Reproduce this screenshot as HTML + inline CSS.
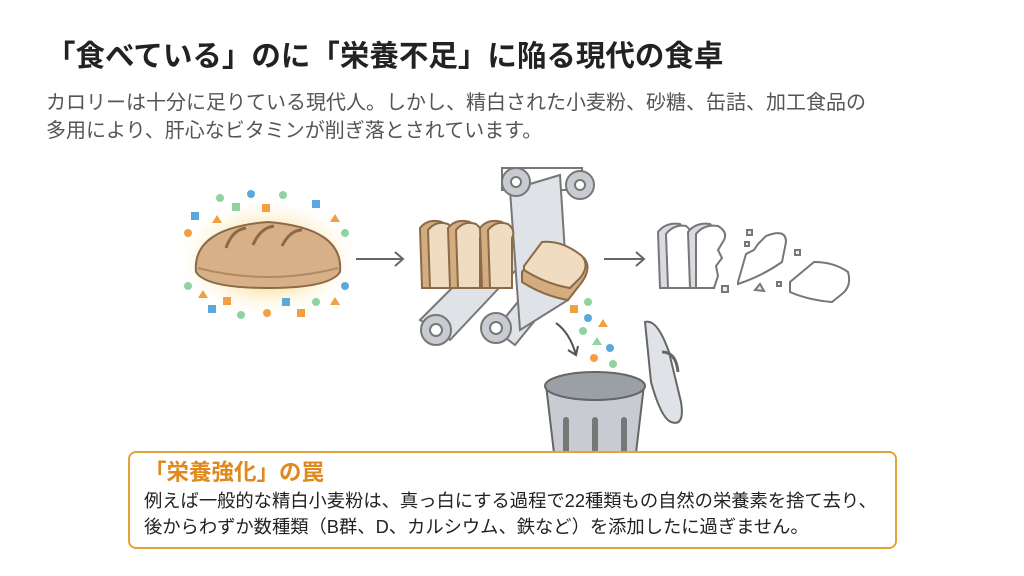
<!DOCTYPE html>
<html><head><meta charset="utf-8"><style>
body{margin:0;width:1024px;height:576px;background:#fff;font-family:"Liberation Sans","Noto Sans CJK JP",sans-serif;overflow:hidden;position:relative}
.t{position:absolute;left:46px;top:38px;font-size:29.5px;line-height:38px;font-weight:bold;color:#222;white-space:nowrap}
.s{position:absolute;left:46px;top:89px;font-size:20px;color:#555;line-height:28px;white-space:nowrap}
.box{position:absolute;left:128px;top:451px;width:765px;height:94px;border:2.5px solid #e3a23a;border-radius:8px;background:#fff}
.bh{position:absolute;left:14px;top:6px;font-size:22.5px;line-height:28px;font-weight:bold;color:#e0891c;white-space:nowrap}
.bb{position:absolute;left:14px;top:35px;font-size:18.3px;color:#222;line-height:26px;white-space:nowrap}
</style></head><body>
<div class="t">「食べている」のに「栄養不足」に陥る現代の食卓</div>
<div class="s">カロリーは十分に足りている現代人。しかし、精白された小麦粉、砂糖、缶詰、加工食品の<br>多用により、肝心なビタミンが削ぎ落とされています。</div>
<svg width="1024" height="576" style="position:absolute;left:0;top:0">
<defs><radialGradient id="g"><stop offset="0.5" stop-color="#fde9b8"/><stop offset="1" stop-color="#fff" stop-opacity="0"/></radialGradient></defs>
<ellipse cx="268" cy="258" rx="95" ry="62" fill="url(#g)"/>
<path d="M196 272 Q192 228 268 222 Q344 228 340 272 Q330 288 268 288 Q206 288 196 272z" fill="#d8b088" stroke="#8a6a48" stroke-width="2"/>
<path d="M198 268 Q268 286 338 268" stroke="#b08a60" stroke-width="2" fill="none"/>
<path d="M226 248 Q232 230 246 228 M253 245 Q260 228 274 226 M282 246 Q290 230 302 230" stroke="#8a6a48" stroke-width="3" fill="none"/>
<g fill="#8fd3a0"><circle cx="220" cy="198" r="4"/><circle cx="283" cy="195" r="4"/><circle cx="345" cy="233" r="4"/><circle cx="188" cy="286" r="4"/><circle cx="241" cy="315" r="4"/><circle cx="316" cy="302" r="4"/><rect x="232" y="203" width="8" height="8"/></g>
<g fill="#5aa8dc"><circle cx="251" cy="194" r="4"/><rect x="191" y="212" width="8" height="8"/><rect x="312" y="200" width="8" height="8"/><circle cx="345" cy="286" r="4"/><rect x="208" y="305" width="8" height="8"/><rect x="282" y="298" width="8" height="8"/></g>
<g fill="#f0a040"><rect x="262" y="204" width="8" height="8"/><circle cx="188" cy="233" r="4"/><circle cx="267" cy="313" r="4"/><rect x="297" y="309" width="8" height="8"/><rect x="223" y="297" width="8" height="8"/><path d="M212 223l5 -8 5 8z M330 222l5 -8 5 8z M198 298l5 -8 5 8z M330 305l5 -8 5 8z"/></g>
<path d="M356 259H403M395 252l8 7-8 7" stroke="#666" stroke-width="2" fill="none"/>
<path d="M604 259H644M636 252l8 7-8 7" stroke="#666" stroke-width="2" fill="none"/>
<g stroke="#777" stroke-width="2" fill="#dfe2e6">
<rect x="502" y="168" width="80" height="22" fill="none"/>
<path d="M420 320L500 240 530 255 450 340z"/>
<path d="M495 330L560 250 580 265 515 345z"/>
<path d="M510 190L560 175 568 300 520 330z"/>
<circle cx="516" cy="182" r="14" fill="#c8ccd2"/><circle cx="580" cy="185" r="14" fill="#c8ccd2"/>
<circle cx="436" cy="330" r="15" fill="#c8ccd2"/><circle cx="496" cy="328" r="15" fill="#c8ccd2"/>
<g fill="#fff"><circle cx="516" cy="182" r="5"/><circle cx="580" cy="185" r="5"/><circle cx="436" cy="330" r="6"/><circle cx="496" cy="328" r="6"/></g>
</g>
<g stroke="#8a6a48" stroke-width="2" fill="#f0dcc0">
<path d="M420 228q8-10 22-6 q6 6 4 14v52h-24z" fill="#d3ac80"/><path d="M428 230q8-10 20-6 q8 6 4 14v50h-22z"/>
<path d="M448 228q8-10 22-6 q6 6 4 14v52h-24z" fill="#d3ac80"/><path d="M456 230q8-10 20-6 q8 6 4 14v50h-22z"/>
<path d="M480 228q8-10 22-6 q6 6 4 14v52h-24z" fill="#d3ac80"/><path d="M488 230q8-10 20-6 q8 6 4 14v50h-22z"/>
<path d="M522 272l20-28q18-2 42 14q8 10-2 24l-14 18q-24-4-46-18z" fill="#d3ac80"/><path d="M524 266l18-24q20-2 40 14q8 10-2 22l-10 10q-24-4-46-18z"/>
</g>
<g fill="#8fd3a0"><circle cx="588" cy="302" r="4"/><circle cx="583" cy="331" r="4"/><circle cx="613" cy="364" r="4"/><circle cx="582" cy="387" r="4"/><path d="M592 345l5-8 5 8z"/></g>
<g fill="#5aa8dc"><circle cx="588" cy="318" r="4"/><circle cx="610" cy="348" r="4"/><rect x="593" y="371" width="7" height="8"/></g>
<g fill="#f0a040"><rect x="570" y="305" width="8" height="8"/><circle cx="594" cy="358" r="4"/><path d="M598 327l5-8 5 8z M615 385l5-8 5 8z"/><rect x="600" y="389" width="8" height="8"/></g>
<path d="M556 323q14 10 20 32M568 350l8 5 2-9" stroke="#555" stroke-width="2" fill="none"/>
<path d="M546 385l8 68h82l8-68z" fill="#c8ccd2" stroke="#666" stroke-width="2"/>
<ellipse cx="595" cy="386" rx="50" ry="14" fill="#9aa0a6" stroke="#666" stroke-width="2"/>
<g stroke="#777" stroke-width="6" stroke-linecap="round"><path d="M566 420v30M595 420v30M624 420v30"/></g>
<path d="M645 322q12-4 24 30l12 50q4 25-10 20q-10-4-20-40z" fill="#dfe2e6" stroke="#666" stroke-width="2"/>
<path d="M662 352q14 0 16 20" stroke="#666" stroke-width="3" fill="none"/>
<g stroke="#777" stroke-width="2" fill="#eceef0">
<path d="M658 232q8-10 22-8 q6 6 4 14v50h-24z" fill="#d8dbe0"/><path d="M666 234q8-10 20-8 q8 6 4 14v48h-22z" fill="#fff"/>
<path d="M688 232q8-10 22-8 q6 6 4 14v50h-24z" fill="#d8dbe0"/><path d="M696 234q8-10 22-8 q10 6 6 14l-6 10 4 8-6 8 2 10-4 12h-18z" fill="#fff"/>
<path d="M738 282l8-28 8-4 4-6 8-8q20-8 20 6l-4 20q-20 14-44 22z" fill="#fff"/>
<path d="M790 282l24-20q20 0 34 10q4 14-6 22l-10 8q-24-2-42-10z" fill="#fff"/>
<rect x="747" y="230" width="5" height="5"/><rect x="745" y="242" width="4" height="4"/><rect x="722" y="286" width="6" height="6"/><rect x="795" y="250" width="5" height="5"/><rect x="777" y="282" width="4" height="4"/><path d="M755 290l5-6 4 7z"/>
</g>
</svg>
<div class="box"><div class="bh">「栄養強化」の罠</div><div class="bb">例えば一般的な精白小麦粉は、真っ白にする過程で22種類もの自然の栄養素を捨て去り、<br>後からわずか数種類（B群、D、カルシウム、鉄など）を添加したに過ぎません。</div></div>
</body></html>
